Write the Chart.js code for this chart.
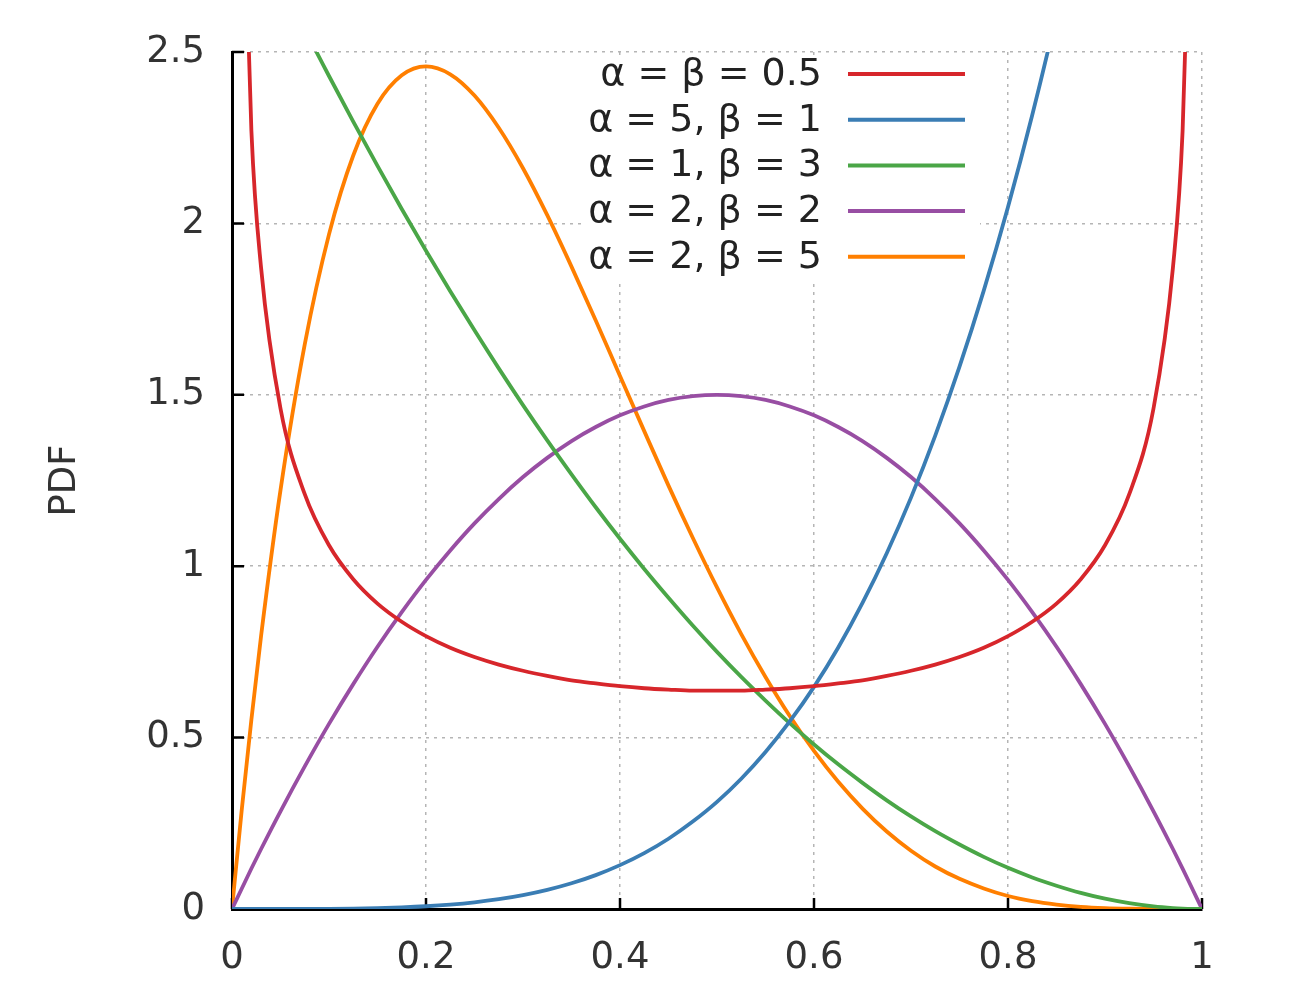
<!DOCTYPE html>
<html>
<head>
<meta charset="utf-8">
<title>Beta PDF</title>
<script src="https://cdn.jsdelivr.net/npm/chart.js@4.4.1/dist/chart.umd.min.js"></script>
<style>
  body { margin: 0; background: #fff; }
  #wrap { width: 1290px; height: 1000px; }
</style>
</head>
<body>
<div id="wrap"><canvas id="betaChart" width="1290" height="1000"></canvas></div>
<script>
// sample positions along x
const xValues = [0, 0.01, 0.02, 0.03, 0.05, 0.075, 0.1, 0.125, 0.15, 0.175, 0.2, 0.225, 0.25, 0.275, 0.3,
    0.325, 0.35, 0.375, 0.4, 0.425, 0.45, 0.475, 0.5, 0.525, 0.55, 0.575, 0.6, 0.625, 0.65, 0.675, 0.7,
    0.725, 0.75, 0.775, 0.8, 0.825, 0.85, 0.875, 0.9, 0.925, 0.95, 0.97, 0.98, 0.99, 1];

const halfHalf = [null, 3.2, 2.27, 1.87, 1.46, 1.21, 1.061, 0.962, 0.891, 0.838, 0.796, 0.762, 0.735, 0.713, 0.695,
    0.68, 0.667, 0.658, 0.65, 0.644, 0.64, 0.637, 0.637, 0.637, 0.64, 0.644, 0.65, 0.658, 0.667, 0.68, 0.695,
    0.713, 0.735, 0.762, 0.796, 0.838, 0.891, 0.962, 1.061, 1.21, 1.46, 1.87, 2.27, 3.2, null];
const fiveOne = [0, 0, 0, 0, 0, 0.0002, 0.0005, 0.0012, 0.0025, 0.0047, 0.008, 0.0128, 0.0195, 0.0286, 0.0405,
    0.0558, 0.075, 0.0989, 0.128, 0.163, 0.205, 0.255, 0.3125, 0.38, 0.458, 0.547, 0.648, 0.763, 0.893, 1.038, 1.2,
    1.381, 1.582, 1.804, 2.048, 2.316, 2.61, 2.931, 3.28, 3.66, 4.07, 4.43, 4.61, 4.8, 5];
const oneThree = [3, 2.94, 2.88, 2.82, 2.71, 2.567, 2.43, 2.297, 2.168, 2.042, 1.92, 1.802, 1.688, 1.577, 1.47,
    1.367, 1.268, 1.172, 1.08, 0.992, 0.908, 0.827, 0.75, 0.677, 0.608, 0.542, 0.48, 0.422, 0.368, 0.317, 0.27,
    0.227, 0.188, 0.152, 0.12, 0.092, 0.068, 0.047, 0.03, 0.017, 0.0075, 0.0027, 0.0012, 0.0003, 0];
const twoTwo = [0, 0.059, 0.118, 0.175, 0.285, 0.416, 0.54, 0.656, 0.765, 0.866, 0.96, 1.046, 1.125, 1.196, 1.26,
    1.316, 1.365, 1.406, 1.44, 1.466, 1.485, 1.496, 1.5, 1.496, 1.485, 1.466, 1.44, 1.406, 1.365, 1.316, 1.26,
    1.196, 1.125, 1.046, 0.96, 0.866, 0.765, 0.656, 0.54, 0.416, 0.285, 0.175, 0.118, 0.059, 0];
const twoFive = [0, 0.288, 0.553, 0.797, 1.222, 1.647, 1.968, 2.198, 2.349, 2.432, 2.458, 2.435, 2.373, 2.279, 2.161,
    2.024, 1.874, 1.717, 1.555, 1.394, 1.235, 1.083, 0.938, 0.802, 0.677, 0.563, 0.461, 0.371, 0.293, 0.226, 0.17,
    0.124, 0.088, 0.06, 0.038, 0.023, 0.013, 0.0064, 0.0027, 0.0009, 0.0002, 0, 0, 0, 0];

const seriesLabels = ["α = β = 0.5", "α = 5, β = 1", "α = 1, β = 3", "α = 2, β = 2", "α = 2, β = 5"];
const seriesColors = ["#d7262b", "#3a7db4", "#4aa647", "#984ea3", "#ff7f00"];

const xTicks = [0, 0.2, 0.4, 0.6, 0.8, 1];
const yTicks = [0, 0.5, 1, 1.5, 2, 2.5];

const FONT = "'DejaVu Sans', Verdana, sans-serif";

function toPoints(arr) {
    return xValues.map((x, i) => ({ x: x, y: arr[i] }));
}

const datasets = [halfHalf, fiveOne, oneThree, twoTwo, twoFive].map((arr, i) => ({
    label: seriesLabels[i],
    data: toPoints(arr),
    borderColor: seriesColors[i],
    backgroundColor: seriesColors[i],
    borderWidth: 3.8,
    pointRadius: 0,
    cubicInterpolationMode: 'monotone',
    fill: false
}));

// legend box in the top middle of the plot, text left of a line sample
const keyPlugin = {
    id: 'keyBox',
    beforeDatasetsDraw(chart) {
        const ctx = chart.ctx;
        const x = chart.scales.x, y = chart.scales.y;
        ctx.save();
        // white box behind the key hides the grid there
        ctx.fillStyle = '#fff';
        ctx.fillRect(585, 55, 395, 227);
        // inward ticks
        ctx.strokeStyle = '#000';
        ctx.lineWidth = 2.5;
        ctx.beginPath();
        xTicks.forEach(v => {
            const px = x.getPixelForValue(v);
            ctx.moveTo(px, chart.chartArea.bottom);
            ctx.lineTo(px, chart.chartArea.bottom - 11);
        });
        yTicks.forEach(v => {
            const py = y.getPixelForValue(v);
            ctx.moveTo(chart.chartArea.left, py);
            ctx.lineTo(chart.chartArea.left + 12, py);
        });
        ctx.stroke();
        ctx.restore();
    },
    afterDatasetsDraw(chart) {
        const ctx = chart.ctx;
        ctx.save();
        ctx.font = '38px ' + FONT;
        ctx.textAlign = 'right';
        ctx.textBaseline = 'middle';
        chart.data.datasets.forEach((ds, i) => {
            const rowY = 74 + i * 45.7;
            ctx.fillStyle = '#222';
            ctx.fillText(ds.label, 822, rowY + 1);
            ctx.strokeStyle = ds.borderColor;
            ctx.lineWidth = 4;
            ctx.beginPath();
            ctx.moveTo(848, rowY);
            ctx.lineTo(965, rowY);
            ctx.stroke();
        });
        ctx.restore();
    }
};

new Chart(document.getElementById("betaChart"), {
    type: 'line',
    data: { datasets: datasets },
    options: {
        responsive: false,
        animation: false,
        layout: { padding: { top: 52, right: 88, left: 0, bottom: 0 } },
        plugins: {
            legend: { display: false },
            tooltip: { enabled: false }
        },
        scales: {
            x: {
                type: 'linear',
                min: 0,
                max: 1,
                afterBuildTicks: s => { s.ticks = xTicks.map(v => ({ value: v })); },
                afterFit: s => { s.height = 91; },
                grid: { color: '#b5b5b5', lineWidth: 1.5, drawTicks: false },
                border: { display: true, color: '#000', width: 3, dash: [3, 5] },
                ticks: {
                    padding: 27,
                    color: '#333',
                    font: { family: FONT, size: 37 },
                    maxRotation: 0,
                    callback: v => String(v)
                }
            },
            y: {
                type: 'linear',
                min: 0,
                max: 2.5,
                afterBuildTicks: s => { s.ticks = yTicks.map(v => ({ value: v })); },
                afterFit: s => { s.width = 232; },
                grid: { color: '#b5b5b5', lineWidth: 1.5, drawTicks: false },
                border: { display: true, color: '#000', width: 3, dash: [3, 5] },
                ticks: {
                    padding: 27,
                    color: '#333',
                    font: { family: FONT, size: 37 },
                    callback: v => String(v)
                },
                title: {
                    display: true,
                    text: 'PDF',
                    color: '#333',
                    font: { family: FONT, size: 37 },
                    padding: { top: 43, bottom: 0 }
                }
            }
        }
    },
    plugins: [keyPlugin]
});
</script>
</body>
</html>
